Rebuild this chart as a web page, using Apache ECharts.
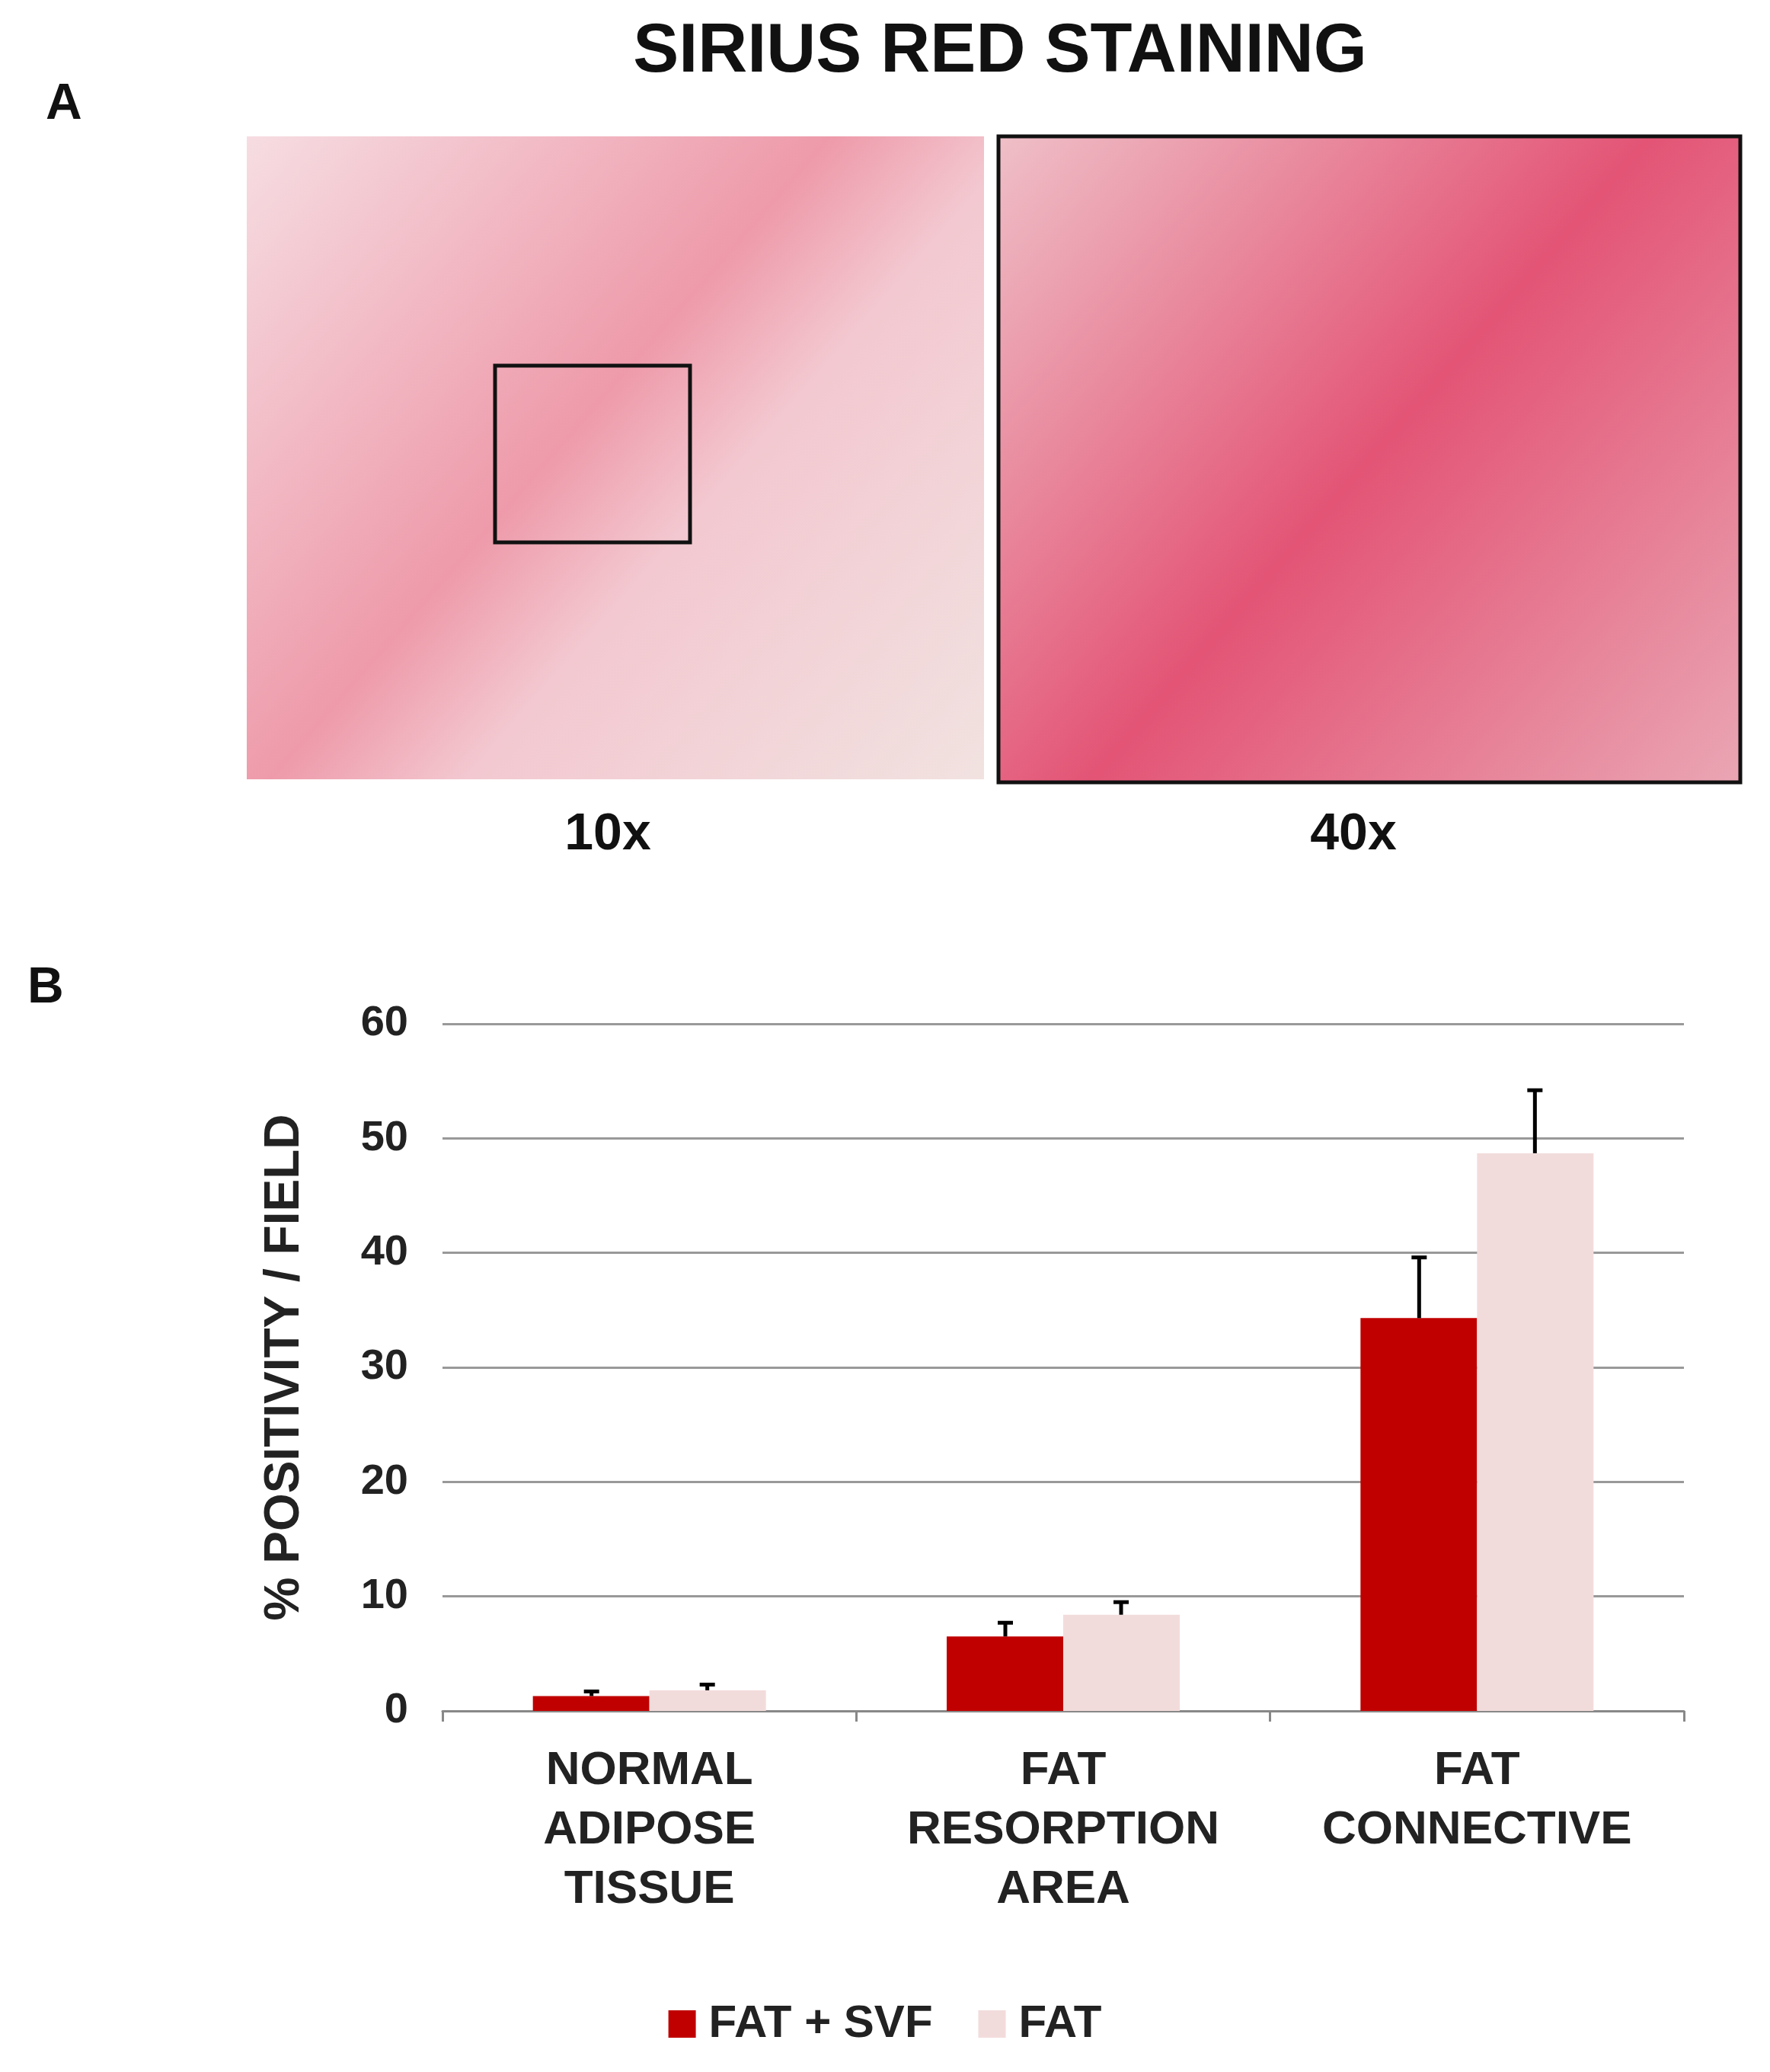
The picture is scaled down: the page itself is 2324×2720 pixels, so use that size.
<!DOCTYPE html>
<html>
<head><meta charset="UTF-8"><title></title>
<script src="https://cdn.jsdelivr.net/npm/echarts@6/dist/echarts.min.js"></script>
</head>
<body style="margin:0">
<div id="main" style="width:2324px;height:2720px"></div>
<script>
var categories = ['NORMAL\nADIPOSE\nTISSUE', 'FAT\nRESORPTION\nAREA', 'FAT\nCONNECTIVE'];
var fatSvf = [1.3, 6.5, 34.3];
var fatSvfErr = [0.4, 1.2, 5.3];
var fat = [1.8, 8.4, 48.7];
var fatErr = [0.5, 1.1, 5.5];

var chart = echarts.init(document.getElementById('main'));
var font = 'Liberation Sans';

function errSeries(vals, errs, offset) {
    return {
        type: 'custom',
        z: 5,
        data: vals.map(function (v, i) { return [i, v, v + errs[i]]; }),
        renderItem: function (params, api) {
            var lo = api.coord([api.value(0), api.value(1)]);
            var hi = api.coord([api.value(0), api.value(2)]);
            var x = lo[0] + offset;
            return {
                type: 'group',
                children: [
                    {type: 'line', shape: {x1: x, y1: lo[1], x2: x, y2: hi[1]}, style: {stroke: '#000', lineWidth: 5}},
                    {type: 'line', shape: {x1: x - 10, y1: hi[1], x2: x + 10, y2: hi[1]}, style: {stroke: '#000', lineWidth: 5}}
                ]
            };
        }
    };
}

var option = {
    animation: false,
    textStyle: {fontFamily: font},
    graphic: [
        {type: 'text', x: 1313, y: 24, style: {text: 'SIRIUS RED STAINING', font: 'bold 90px ' + font, fill: '#111', align: 'center'}},
        {type: 'text', left: 60, top: 105, style: {text: 'A', font: 'bold 66px ' + font, fill: '#111'}},
        {type: 'rect', shape: {x: 324, y: 179, width: 968, height: 844},
            style: {fill: {type: 'linear', x: 0, y: 0, x2: 1, y2: 1, colorStops: [
                {offset: 0, color: '#f6dde2'}, {offset: 0.45, color: '#ee9aaa'}, {offset: 0.6, color: '#f3c8d0'}, {offset: 1, color: '#f1e2e0'}]}}},
        {type: 'rect', shape: {x: 650, y: 480, width: 256, height: 232}, style: {fill: 'none', stroke: '#111', lineWidth: 5}},
        {type: 'rect', shape: {x: 1311, y: 179, width: 974, height: 848},
            style: {fill: {type: 'linear', x: 0, y: 0, x2: 1, y2: 1, colorStops: [
                {offset: 0, color: '#efc0c8'}, {offset: 0.5, color: '#e35475'}, {offset: 1, color: '#eaa6b4'}]},
                stroke: '#111', lineWidth: 5}},
        {type: 'text', x: 798, y: 1062, style: {text: '10x', font: 'bold 68px ' + font, fill: '#111', align: 'center'}},
        {type: 'text', x: 1777, y: 1062, style: {text: '40x', font: 'bold 68px ' + font, fill: '#111', align: 'center'}},
        {type: 'text', left: 36, top: 1265, style: {text: 'B', font: 'bold 66px ' + font, fill: '#111'}}
    ],
    legend: {
        bottom: 28, left: 'center', itemWidth: 36, itemHeight: 36, itemGap: 60,
        textStyle: {fontFamily: font, fontWeight: 'bold', fontSize: 60, color: '#222', padding: [0, 0, 0, 12]},
        data: [{name: 'FAT + SVF', icon: 'rect'}, {name: 'FAT', icon: 'rect'}]
    },
    grid: {left: 581, right: 113, top: 1344, bottom: 474},
    xAxis: {
        type: 'category', data: categories,
        axisLine: {lineStyle: {color: '#888', width: 3}},
        axisTick: {show: true, length: 14, lineStyle: {color: '#888', width: 3}},
        axisLabel: {fontFamily: font, fontWeight: 'bold', fontSize: 62, color: '#222', lineHeight: 78, margin: 40}
    },
    yAxis: {
        type: 'value', min: 0, max: 60, interval: 10,
        name: '% POSITIVITY / FIELD', nameLocation: 'middle', nameGap: 175,
        nameTextStyle: {fontFamily: font, fontWeight: 'bold', fontSize: 64, color: '#222'},
        axisLine: {show: false}, axisTick: {show: false},
        splitLine: {lineStyle: {color: '#999', width: 3}},
        axisLabel: {fontFamily: font, fontWeight: 'bold', fontSize: 56, color: '#222', margin: 45}
    },
    series: [
        {name: 'FAT + SVF', type: 'bar', data: fatSvf, barWidth: 153, barGap: '0%', itemStyle: {color: '#c00000'}},
        {name: 'FAT', type: 'bar', data: fat, barWidth: 153, itemStyle: {color: '#f2dcdb'}},
        errSeries(fatSvf, fatSvfErr, -76),
        errSeries(fat, fatErr, 76)
    ]
};
chart.setOption(option);
</script>
</body>
</html>
